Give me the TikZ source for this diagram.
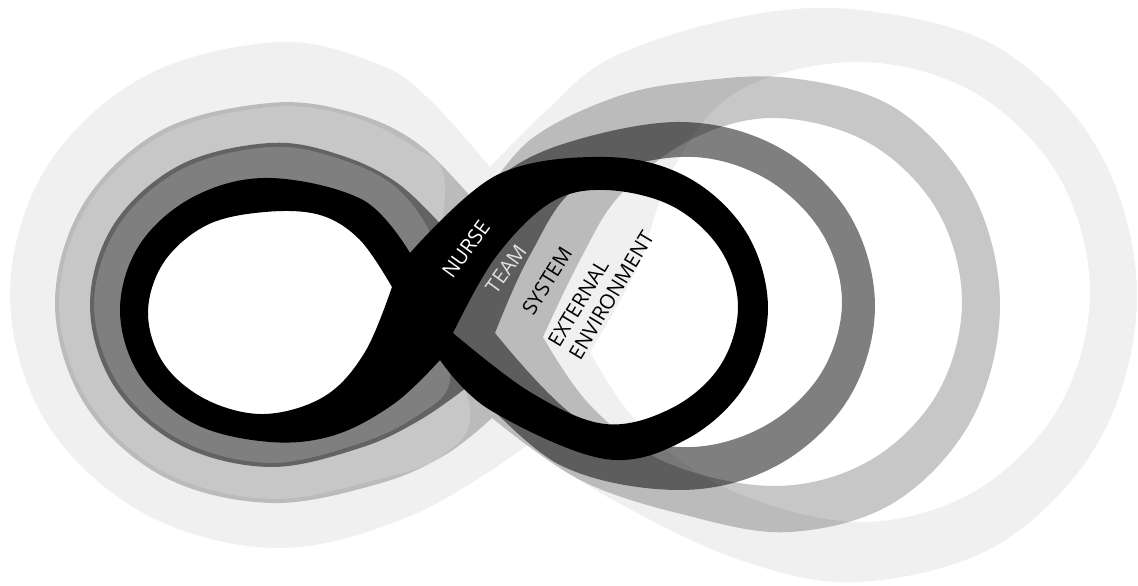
\documentclass[tikz,border=0pt]{standalone}
\usepackage{fontspec}
\newfontfamily\labelfont{Open Sans}
\begin{document}
\begin{tikzpicture}[x=0.01cm,y=-0.01cm,
  ring/.style={fill=black,even odd rule},
  lobe/.style={smooth,tension=0.6},
  lbl/.style={font=\labelfont\fontsize{5.8}{6.9}\selectfont,inner sep=0pt,align=left}]
\useasboundingbox (0,0) rectangle (1138,586);

\fill[ring,fill opacity=0.06]
 plot[lobe] coordinates {(490,167) (430,100) (380,65) (280,42) (145,76) (46,168) (10,295) (46,422) (145,514) (280,548) (415,514) (528,445)}
 -- plot[lobe] coordinates {(528,445) (613,500) (740,560) (860,582) (999,544) (1100,439) (1137,296) (1100,153) (999,48) (860,10) (740,17) (613,57) (547,110) (490,167)} -- cycle
 plot[lobe] coordinates {(590,352) (637,268) (675,165) (740,90) (860,62) (975,93) (1059,177) (1090,292) (1059,407) (975,491) (860,522) (730,490) (640,425) (590,352)} -- cycle
 plot[lobe] coordinates {(430,300) (445,182) (414,147) (350,116) (270,107) (164,134) (88,205) (59,303) (88,401) (164,472) (270,499) (376,480) (442,456) (470,410) (430,300)} -- cycle;

\fill[ring,fill opacity=0.22]
 plot[lobe] coordinates {(478,205) (417,143) (350,112) (270,103) (162,130) (84,203) (55,303) (84,403) (162,476) (270,503) (378,484) (445,455) (492,418)}
 -- plot[lobe] coordinates {(492,418) (580,480) (685,515) (790,532) (895,502) (972,419) (1000,305) (972,192) (895,108) (790,78) (690,82) (613,98) (530,140) (478,205)} -- cycle
 plot[lobe] coordinates {(543,337) (580,260) (620,195) (690,140) (775,118) (869,143) (937,210) (962,302) (937,394) (869,461) (775,486) (665,462) (590,405) (543,337)} -- cycle
 plot[lobe] coordinates {(430,300) (435,245) (398,189) (340,159) (270,147) (182,169) (118,226) (94,305) (118,384) (182,441) (270,463) (358,444) (417,416) (450,380) (430,300)} -- cycle;

\fill[ring,fill opacity=0.5]
 plot[lobe] coordinates {(455,240) (400,185) (340,155) (270,143) (180,165) (114,224) (90,305) (114,386) (180,445) (270,467) (360,448) (420,420) (470,385)}
 -- plot[lobe] coordinates {(470,385) (560,465) (680,490) (778,465) (849,398) (875,306) (849,214) (778,147) (680,122) (560,145) (490,185) (455,240)} -- cycle
 plot[lobe] coordinates {(495,333) (530,255) (580,185) (680,157) (761,176) (820,230) (842,302) (820,375) (761,428) (680,447) (580,420) (495,333)} -- cycle
 plot[lobe] coordinates {(425,300) (405,256) (361,204) (270,182) (197,200) (144,246) (124,310) (144,374) (197,420) (270,438) (333,431) (392,400) (425,350) (425,300)} -- cycle;

\fill[ring]
 plot[lobe] coordinates {(410,253) (363,200) (270,178) (195,196) (140,244) (120,310) (140,376) (195,424) (270,442) (335,435) (395,403) (440,360)}
 -- plot[lobe] coordinates {(440,360) (490,410) (605,459) (687,439) (746,384) (768,308) (746,232) (687,177) (605,157) (497,175) (410,253)} -- cycle
 plot[lobe] coordinates {(392,287) (360,240) (320,215) (265,212) (207,225) (164,262) (148,313) (164,364) (207,400) (265,414) (325,396) (365,352) (392,287)} -- cycle
 plot[lobe] coordinates {(453,333) (495,258) (550,203) (605,190) (672,206) (720,249) (738,307) (720,366) (672,408) (605,424) (530,392) (453,333)} -- cycle;

\node[lbl,text=white,rotate=54] (nurse) at (466,249) {NURSE};
\node[lbl,text=white!88!black,rotate=54] (team) at (506,269) {TEAM};
\node[lbl,rotate=58] (system) at (547,281) {SYSTEM};
\node[lbl,rotate=59] (external) at (601,289) {EXTERNAL\\ENVIRONMENT};

\end{tikzpicture}
\end{document}
